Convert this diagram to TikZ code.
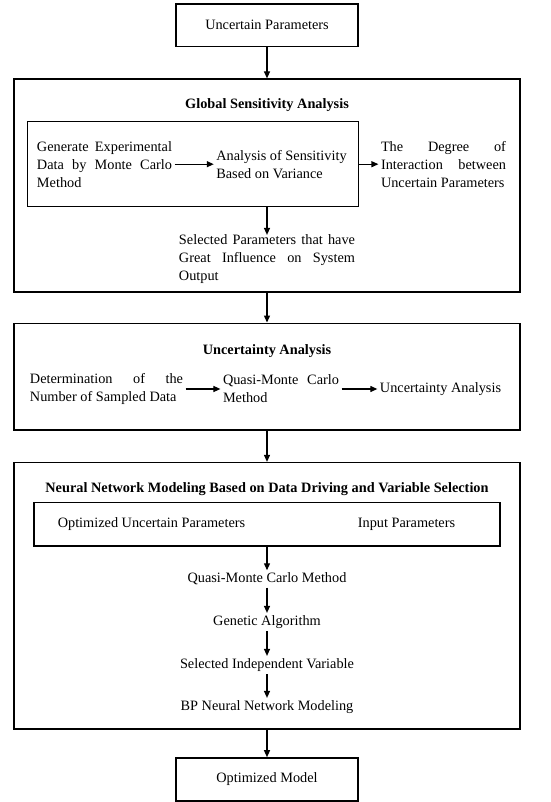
\documentclass[tikz,border=0pt]{standalone}
\usepackage{fontspec}
\setmainfont{Liberation Serif}
\usetikzlibrary{arrows.meta,positioning}

\begin{document}
\begin{tikzpicture}[->,>={Triangle[length=7pt,width=6pt]}, line width=1.2pt,
		font=\fontsize{14.3pt}{18pt}\selectfont]
		\tikzstyle{every node}=[inner sep=2pt]
		\tikzstyle{stepbox}=[draw, line width=1.6pt, minimum width=182pt, minimum height=42.7pt]
		\tikzstyle{frame}=[draw, line width=1.6pt, minimum width=506.5pt]
		\tikzstyle{title}=[font=\fontsize{14.3pt}{18pt}\selectfont\bfseries]
		\tikzstyle{para}=[align=justify]
		\useasboundingbox (-267pt,25.3pt) rectangle (283pt,-776.7pt);
		% outer chain
		\node[stepbox] (params) at (0,0) {Uncertain Parameters};
		\node[frame, minimum height=213pt] (gsa) [below of=params, node distance=160.4pt] {};
		\node[frame, minimum height=106.7pt] (ua) [below of=gsa, node distance=191pt] {};
		\node[frame, minimum height=266.3pt] (nn) [below of=ua, node distance=219.1pt] {};
		\node[stepbox, minimum height=43pt] (model) [below of=nn, node distance=183.7pt] {Optimized Model};
		% global sensitivity analysis
		\node[title] (gsatitle) [below of=params, node distance=79.7pt] {Global Sensitivity Analysis};
		\node[draw, line width=1.6pt, minimum width=330.6pt, minimum height=85pt] (gsabox)
			[below of=gsatitle, node distance=59.2pt, xshift=-74pt] {};
		\node[para, text width=135pt] (gen) [left of=gsabox, node distance=88.5pt]
			{Generate Experimental\linebreak Data by Monte Carlo\linebreak Method};
		\node[align=left] (sens) [right of=gen, node distance=177pt]
			{Analysis of Sensitivity\\Based on Variance};
		\node[para, text width=125pt] (degree) [right of=sens, node distance=162pt]
			{The Degree of\linebreak Interaction between\linebreak Uncertain Parameters};
		\node[para, text width=176pt] (sel) [below of=gsatitle, node distance=154pt]
			{Selected Parameters that have\linebreak Great Influence on System\linebreak Output};
		% uncertainty analysis
		\node[title] (uatitle) [above of=ua, node distance=25.7pt] {Uncertainty Analysis};
		\node[para, text width=153pt] (det) [below of=uatitle, node distance=38pt, xshift=-160.5pt]
			{Determination of the\linebreak Number of Sampled Data};
		\node[para, text width=116pt] (qmc) [right of=det, node distance=174.5pt]
			{Quasi-Monte Carlo\linebreak Method};
		\node (uares) [right of=qmc, node distance=159.5pt] {Uncertainty Analysis};
		% neural network modeling
		\node[title] (nntitle) [above of=nn, node distance=106.8pt]
			{Neural Network Modeling Based on Data Driving and Variable Selection};
		\node[draw, line width=1.6pt, minimum width=466.5pt, minimum height=43.3pt] (nnbox)
			[below of=nntitle, node distance=35.3pt] {};
		\node (opt) [left of=nnbox, node distance=115.5pt] {Optimized Uncertain Parameters};
		\node (inp) [right of=nnbox, node distance=139.5pt] {Input Parameters};
		\node (qmcb) [below of=nnbox, node distance=54.7pt] {Quasi-Monte Carlo Method};
		\node (ga) [below of=qmcb, node distance=43pt] {Genetic Algorithm};
		\node (siv) [below of=ga, node distance=43pt] {Selected Independent Variable};
		\node (bp) [below of=siv, node distance=42pt] {BP Neural Network Modeling};

		\draw (params) -- (gsa);
		\draw (gen) -- (sens);
		\draw (gsabox.east |- degree.west) -- (degree);
		\draw[shorten >=-3pt] (gsabox.south -| sel.north) -- (sel.north);
		\draw (gsa) -- (ua);
		\draw (det) -- (qmc);
		\draw (qmc) -- (uares);
		\draw (ua) -- (nn);
		\draw (nnbox) -- (qmcb);
		\draw (qmcb) -- (ga);
		\draw (ga) -- (siv);
		\draw (siv) -- (bp);
		\draw (nn) -- (model);
	\end{tikzpicture}
\end{document}
